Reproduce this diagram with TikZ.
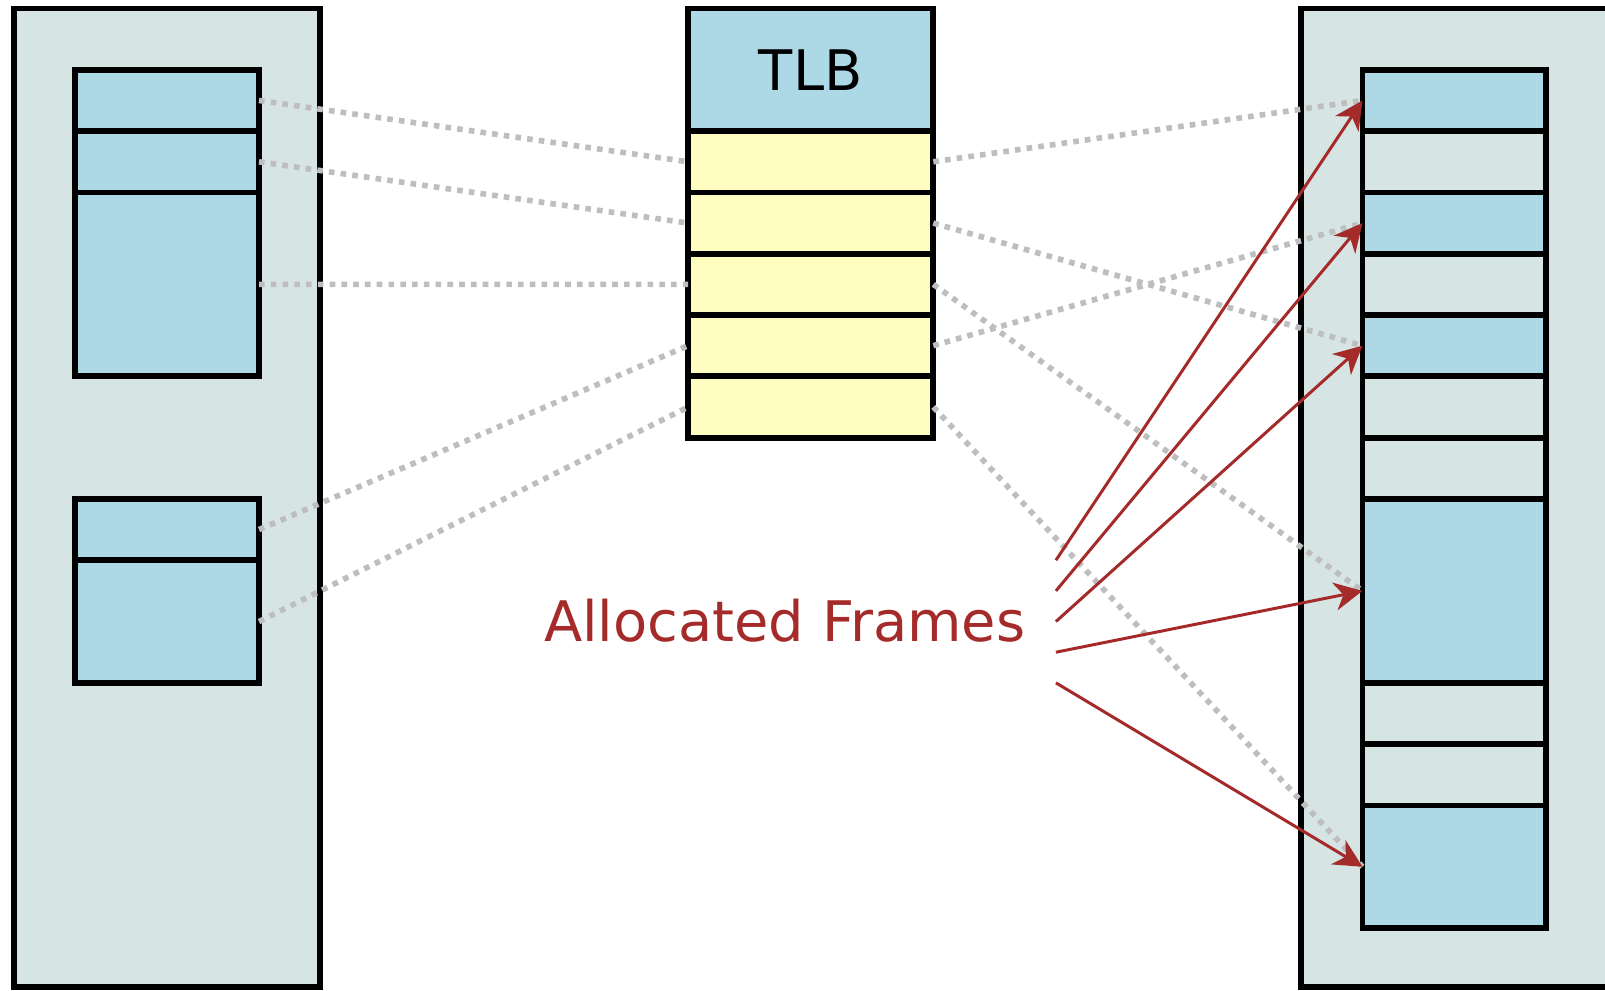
\documentclass[tikz,border=0pt]{standalone}
\usepackage{fontspec}
\setmainfont{DejaVu Sans}
\usetikzlibrary{arrows.meta}
\definecolor{outerfill}{HTML}{D7E4E4}
\definecolor{cellblue}{HTML}{ADD8E6}
\definecolor{cellyellow}{HTML}{FFFDC0}
\definecolor{arrowred}{HTML}{A52A2A}
\definecolor{dotgray}{HTML}{BEBEBE}
\begin{document}
\begin{tikzpicture}[x=1.226cm, y=-1.226cm,
  box/.style={draw=black, line width=3.3pt, inner sep=0pt, outer sep=0pt, anchor=north west},
  outerbox/.style={box, fill=outerfill, minimum width=6.13cm, minimum height=19.567cm},
  bcell/.style={box, fill=cellblue, minimum width=3.678cm},
  lcell/.style={box, fill=outerfill, minimum width=3.678cm},
  ycell/.style={box, fill=cellyellow, minimum width=4.904cm, minimum height=1.226cm},
  hone/.style={minimum height=1.226cm},
  htwo/.style={minimum height=2.452cm},
  hthree/.style={minimum height=3.678cm},
  bigtext/.style={font=\fontsize{31.8pt}{38pt}\selectfont},
  dotline/.style={draw=dotgray, line width=3.2pt, dash pattern=on 3.2pt off 3.5pt},
  redarrow/.style={draw=arrowred, line width=1.7pt, -{Stealth[length=16pt, width=16pt, inset=5pt]}}
]
\useasboundingbox (-0.225,-0.139) rectangle (25.957,16.012);
\clip (-0.225,-0.139) rectangle (25.957,16.012);

% outer boxes
\node[outerbox] (LO) at (0,0) {};
\node[outerbox] (RO) at (21,0) {};

% left inner cells
\node[bcell, hone]   (L1) at (1,1) {};
\node[bcell, hone]   (L2) at (1,2) {};
\node[bcell, hthree] (L3) at (1,3) {};
\node[bcell, hone]   (L4) at (1,8) {};
\node[bcell, htwo]   (L5) at (1,9) {};

% TLB
\node[box, fill=cellblue, minimum width=4.904cm, htwo, bigtext] (T0) at (11,0) {TLB};
\node[ycell] (T1) at (11,2) {};
\node[ycell] (T2) at (11,3) {};
\node[ycell] (T3) at (11,4) {};
\node[ycell] (T4) at (11,5) {};
\node[ycell] (T5) at (11,6) {};

% right inner cells
\node[bcell, hone]   (R1)  at (22,1) {};
\node[lcell, hone]   (R2)  at (22,2) {};
\node[bcell, hone]   (R3)  at (22,3) {};
\node[lcell, hone]   (R4)  at (22,4) {};
\node[bcell, hone]   (R5)  at (22,5) {};
\node[lcell, hone]   (R6)  at (22,6) {};
\node[lcell, hone]   (R7)  at (22,7) {};
\node[bcell, hthree] (R8)  at (22,8) {};
\node[lcell, hone]   (R9)  at (22,11) {};
\node[lcell, hone]   (R10) at (22,12) {};
\node[bcell, htwo]   (R11) at (22,13) {};

% label
\node[bigtext, text=arrowred, anchor=base, inner sep=0pt] (lbl) at (12.576,10.318) {Allocated Frames};

% dotted mappings
\draw[dotline] (L1.east) -- (T1.west);
\draw[dotline] (L2.east) -- (T2.west);
\draw[dotline] (L3.east) -- (T3.west);
\draw[dotline] (L4.east) -- (T4.west);
\draw[dotline] (L5.east) -- (T5.west);
\draw[dotline] (T1.east) -- (R1.west);
\draw[dotline] (T2.east) -- (R5.west);
\draw[dotline] (T3.east) -- (R8.west);
\draw[dotline] (T4.east) -- (R3.west);
\draw[dotline] (T5.east) -- (R11.west);

% arrows
\coordinate (a1) at (17,9);
\coordinate (a2) at (17,9.5);
\coordinate (a3) at (17,10);
\coordinate (a4) at (17,10.5);
\coordinate (a5) at (17,11);
\draw[redarrow] (a1) -- (R1.west);
\draw[redarrow] (a2) -- (R3.west);
\draw[redarrow] (a3) -- (R5.west);
\draw[redarrow] (a4) -- (R8.west);
\draw[redarrow] (a5) -- (R11.west);
\end{tikzpicture}
\end{document}
